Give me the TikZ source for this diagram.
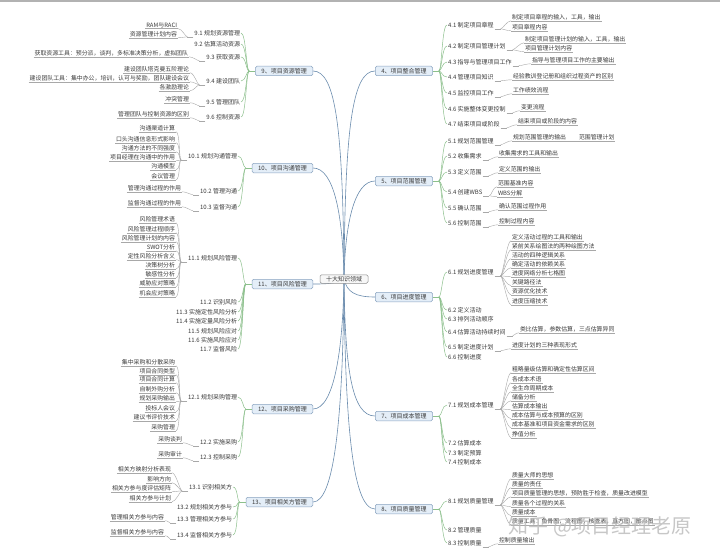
\documentclass[tikz,border=0pt]{standalone}
\usepackage{fontspec}
\setmainfont{Noto Sans CJK SC}
\definecolor{mainb}{HTML}{8AA4C0}
\definecolor{mainf}{HTML}{E4EEF8}
\definecolor{ctrb}{HTML}{8C8C8C}
\definecolor{ctrf}{HTML}{F7F7F7}
\definecolor{mcol}{HTML}{6B8CAE}
\definecolor{scol}{HTML}{8CC08C}
\definecolor{lcol}{HTML}{A8A8A8}
\definecolor{txt}{HTML}{3A3A3A}
\newcommand\fmain{\fontsize{6}{7}\selectfont}
\newcommand\fsub{\fontsize{6}{7}\selectfont}
\newcommand\fleaf{\fontsize{5.9}{7}\selectfont}
\tikzset{
  mainn/.style={draw=mainb, fill=mainf, rounded corners=1.5pt, line width=0.5pt, font=\fmain, text=txt, minimum height=9.5pt, inner xsep=6pt, inner ysep=1pt},
  ctrn/.style={draw=ctrb, fill=ctrf, rounded corners=1.5pt, line width=0.5pt, font=\fmain, text=txt, minimum width=48pt, minimum height=8.5pt, inner sep=1pt},
  lvR/.style={anchor=west, font=\fsub, text=txt, inner sep=0.8pt},
  lvL/.style={anchor=east, font=\fsub, text=txt, inner sep=0.8pt},
  lfR/.style={anchor=west, font=\fleaf, text=txt, inner sep=0.8pt},
  lfL/.style={anchor=east, font=\fleaf, text=txt, inner sep=0.8pt},
  mc/.style={draw=mcol, line width=0.6pt},
  sc/.style={draw=scol, line width=0.5pt},
  lc/.style={draw=lcol, line width=0.4pt},
}
% level-2 branches, right side: #1 main node, #2 list text/y
\newcommand\subR[2]{%
  \draw[sc] (#1.east) -- ++(6,0) coordinate (#1j);
  \foreach \t/\y [count=\i] in {#2}{
    \node[lvR] (#1-\i) at (447,\y) {\t};
    \draw[sc] (#1j) .. controls +(3,0) and +(-5,0) .. (#1-\i.west);
  }}
% level-2 branches, left side: #1 main node, #2 x of right edge, #3 list
\newcommand\subL[3]{%
  \draw[sc] (#1.west) -- ++(-6,0) coordinate (#1j);
  \foreach \t/\y [count=\i] in {#3}{
    \node[lvL] (#1-\i) at (#2,\y) {\t};
    \draw[sc] (#1j) .. controls +(-3,0) and +(5,0) .. (#1-\i.east);
  }}
% leaves, right side: #1 parent, #2 x, #3 list
\newcommand\leafR[3]{%
  \draw[lc] (#1.south east) -- ++(6,0) coordinate (#1j);
  \foreach \t/\y [count=\i] in {#3}{
    \node[lfR] (#1-\i) at (#2,\y) {\t};
    \draw[lc] (#1-\i.south west) -- (#1-\i.south east);
    \draw[lc] (#1j) .. controls +(2,0) and +(-4,0) .. (#1-\i.south west);
  }}
% leaves, left side
\newcommand\leafL[3]{%
  \draw[lc] (#1.south west) -- ++(-6,0) coordinate (#1j);
  \foreach \t/\y [count=\i] in {#3}{
    \node[lfL] (#1-\i) at (#2,\y) {\t};
    \draw[lc] (#1-\i.south west) -- (#1-\i.south east);
    \draw[lc] (#1j) .. controls +(-2,0) and +(4,0) .. (#1-\i.south east);
  }}
\begin{document}
\begin{tikzpicture}[x=1pt,y=-1pt]
\useasboundingbox (0,0) rectangle (720,559);
\fill[white] (0,0) rectangle (720,559);
\fill[gray!60] (0,0) rectangle (720,2.2);

% main nodes
\node[mainn, anchor=west] (m4) at (375,71) {4、项目整合管理};
\node[mainn, anchor=west] (m5) at (375,181) {5、项目范围管理};
\node[mainn, anchor=west] (m6) at (375,297) {6、项目进度管理};
\node[mainn, anchor=west] (m7) at (375,416) {7、项目成本管理};
\node[mainn, anchor=west] (m8) at (375,509) {8、项目质量管理};
\node[mainn, anchor=east] (m9) at (313,71) {9、项目资源管理};
\node[mainn, anchor=east] (m10) at (313,168) {10、项目沟通管理};
\node[mainn, anchor=east] (m11) at (313,284) {11、项目风险管理};
\node[mainn, anchor=east] (m12) at (313,409) {12、项目采购管理};
\node[mainn, anchor=east] (m13) at (313,502) {13、项目相关方管理};

% main connectors
\coordinate (c0) at (344,279);
\draw[mc] (c0) .. controls (345,130) and (352,71) .. (m4.west);
\draw[mc] (c0) .. controls (345,225) and (354,181) .. (m5.west);
\draw[mc] (c0) .. controls (347,292) and (355,297) .. (m6.west);
\draw[mc] (c0) .. controls (345,370) and (352,416) .. (m7.west);
\draw[mc] (c0) .. controls (345,420) and (352,509) .. (m8.west);
\draw[mc] (c0) .. controls (343,130) and (336,71) .. (m9.east);
\draw[mc] (c0) .. controls (343,215) and (334,168) .. (m10.east);
\draw[mc] (c0) .. controls (335,284) and (325,284) .. (m11.east);
\draw[mc] (c0) .. controls (343,350) and (334,409) .. (m12.east);
\draw[mc] (c0) .. controls (343,420) and (334,502) .. (m13.east);
\node[ctrn] (c) at (344,279) {十大知识领域};

% ---------- right side ----------
\subR{m4}{4.1 制定项目章程/25, 4.2 制定项目管理计划/46, 4.3 指导与管理项目工作/62, 4.4 管理项目知识/77, 4.5 监控项目工作/93, 4.6 实施整体变更控制/109, 4.7 结束项目或阶段/124}
\leafR{m4-1}{511}{制定项目章程的输入，工具，输出/17, 项目章程内容/27}
\leafR{m4-2}{524}{制定项目管理计划的输入，工具，输出/39, 项目管理计划内容/48}
\leafR{m4-3}{531}{指导与管理项目工作的主要输出/60}
\leafR{m4-4}{512}{经验教训登记册和组织过程资产的区别/76}
\leafR{m4-5}{512}{工作绩效流程/90}
\leafR{m4-6}{520}{变更流程/107}
\leafR{m4-7}{517}{结束项目或阶段的内容/121}

\subR{m5}{5.1 规划范围管理/141, 5.2 收集需求/156, 5.3 定义范围/172, 5.4 创建WBS/192, 5.5 确认范围/208, 5.6 控制范围/223}
\leafR{m5-1}{512}{规划范围管理的输出/137}
\leafR{m5-1-1}{578}{范围管理计划/137}
\leafR{m5-2}{498}{收集需求的工具和输出/153}
\leafR{m5-3}{498}{定义范围的输出/169}
\leafR{m5-4}{497}{范围基准内容/183, WBS分解/193}
\leafR{m5-5}{498}{确认范围过程作用/206}
\leafR{m5-6}{498}{控制过程内容/221}

\subR{m6}{6.1 规划进度管理/272, 6.2 定义活动/310, 6.3 排列活动顺序/319, 6.4 估算活动持续时间/332, 6.5 制定进度计划/347, 6.6 控制进度/357}
\leafR{m6-1}{511}{定义活动过程的工具和输出/237, 紧前关系绘图法的两种绘图方法/246, 活动的四种逻辑关系/255, 确定活动的依赖关系/264, 进度网络分析七格图/273, 关键路径法/282, 资源优化技术/291, 进度压缩技术/301}
\leafR{m6-4}{519}{类比估算，参数估算，三点估算异同/329}
\leafR{m6-5}{511}{进度计划的三种表现形式/345}

\subR{m7}{7.1 规划成本管理/405, 7.2 估算成本/443, 7.3 制定预算/453, 7.4 控制成本/462}
\leafR{m7-1}{511}{粗略量级估算和确定性估算区间/369, 各成本术语/379, 全生命周期成本/388, 储备分析/397, 估算成本输出/406, 成本估算与成本预算的区别/415, 成本基准和项目资金需求的区别/424, 挣值分析/434}

\subR{m8}{8.1 规划质量管理/501, 8.2 管理质量/530, 8.3 控制质量/543}
\leafR{m8-1}{511}{质量大师的思想/475, 质量的责任/484, 项目质量管理的思想，预防胜于检查，质量改进模型/493, 质量各个过程的关系/503, 质量成本/512, 质量工具：鱼骨图，流程图，核查表，直方图，散点图/521}
\leafR{m8-3}{498}{控制质量输出/540}

% ---------- left side ----------
\subL{m9}{241}{9.1 规划资源管理/33, 9.2 估算活动资源/44, 9.3 获取资源/57, 9.4 建设团队/81, 9.5 管理团队/102, 9.6 控制资源/117}
\leafL{m9-1}{178}{RAM与RACI/25, 资源管理计划内容/34}
\leafL{m9-3}{189}{获取资源工具：预分派，谈判，多标准决策分析，虚拟团队/53}
\leafL{m9-4}{190}{建设团队塔克曼五阶理论/69, 建设团队工具：集中办公，培训，认可与奖励，团队建设会议/78, 各激励理论/87}
\leafL{m9-5}{190}{冲突管理/99}
\leafL{m9-6}{190}{管理团队与控制资源的区别/114}

\subL{m10}{238}{10.1 规划沟通管理/156, 10.2 管理沟通/191, 10.3 监督沟通/207}
\leafL{m10-1}{176}{沟通渠道计算/128, 口头沟通信息形式影响/139, 沟通方法的不同强度/148, 项目经理在沟通中的作用/157, 沟通模型/166, 会议管理/176}
\leafL{m10-2}{182}{管理沟通过程的作用/188}
\leafL{m10-3}{182}{监督沟通过程的作用/203}

\subL{m11}{238}{11.1 规划风险管理/258, 11.2 识别风险/302, 11.3 实施定性风险分析/312, 11.4 实施定量风险分析/321, 11.5 规划风险应对/331, 11.6 实施风险应对/340, 11.7 监督风险/349}
\leafL{m11-1}{176}{风险管理术语/219, 风险管理过程顺序/229, 风险管理计划的内容/238, SWOT分析/247, 定性风险分析含义/256, 决策树分析/265, 敏感性分析/274, 威胁应对策略/283, 机会应对策略/293}

\subL{m12}{238}{12.1 规划采购管理/397, 12.2 实施采购/442, 12.3 控制采购/457}
\leafL{m12-1}{176}{集中采购和分散采购/362, 项目合同类型/371, 项目合同计算/379, 自制外购分析/389, 规划采购输出/398, 投标人会议/408, 建议书评价技术/417, 采购管理/427}
\leafL{m12-2}{183}{采购谈判/439}
\leafL{m12-3}{183}{采购审计/454}

\subL{m13}{233}{13.1 识别相关方/487, 13.2 规划相关方参与/507, 13.3 管理相关方参与/519, 13.4 监督相关方参与/535}
\leafL{m13-1}{172}{相关方映射分析表现/469, 影响方向/479, 相关方参与度评估矩阵/488, 相关方参与计划/498}
\leafL{m13-3}{165}{管理相关方参与内容/517}
\leafL{m13-4}{165}{监督相关方参与内容/532}

% watermark
\node[anchor=west, font=\fontsize{20}{22}\selectfont, text=gray!55, text opacity=0.8] (wm) at (505,527) {知乎 @项目经理老原};
\end{tikzpicture}
\end{document}
